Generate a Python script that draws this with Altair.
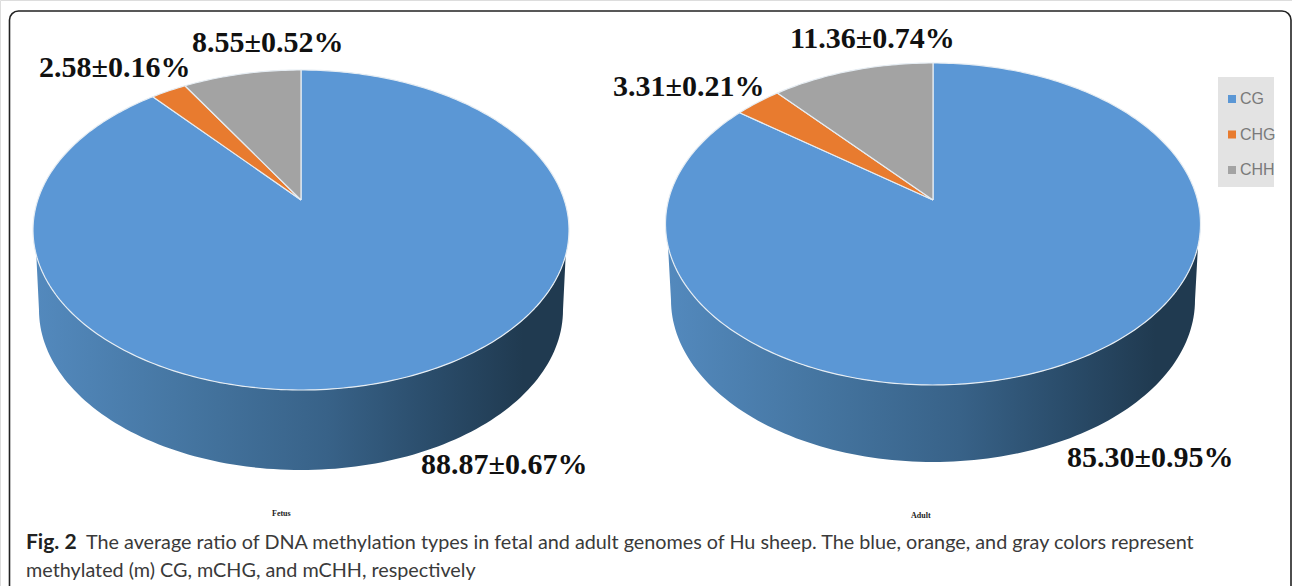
import math
import altair as alt
import pandas as pd

CHART_W, CHART_H = 1292, 586

# Methylation shares (%) and their errors, one list per genome
types = ["CG", "CHG", "CHH"]
fetus_values = [88.87, 2.58, 8.55]
fetus_errors = [0.67, 0.16, 0.52]
adult_values = [85.30, 3.31, 11.36]
adult_errors = [0.95, 0.21, 0.74]
type_colors = ["#5b97d5", "#e87b2f", "#a3a3a3"]

# Perspective of each disc: apex, far and near rim, half width, rim shift and lower edge
discs = {
    "Fetus": dict(cx=301, apex=200, far=70, near=390, rx=268, rim_y=255, low_cy=310, low_rx=262, low_ry=160),
    "Adult": dict(cx=933, apex=200, far=63, near=385, rx=267.5, rim_y=246, low_cy=300, low_rx=262, low_ry=162),
}


def rim_point(d, turn):
    """Project a position on the round pie edge (fraction of a turn, clockwise from the top)."""
    up, down = d["apex"] - d["far"], d["near"] - d["apex"]
    k = (down - up) / (down + up)
    a = up * (1 + k)
    b = d["rx"] * math.sqrt(1 - k * k)
    u, v = math.sin(2 * math.pi * turn), math.cos(2 * math.pi * turn)
    w = 1 + k * v
    return d["cx"] + b * u / w, d["apex"] - a * v / w


def wedge_rows(name, values):
    d = discs[name]
    total = sum(values)
    rows, start = [], 0.0
    for t, val in zip(types, values):
        share = val / total
        steps = max(4, int(share * 360))
        pts = [(d["cx"], d["apex"])]
        pts += [rim_point(d, start + share * i / steps) for i in range(steps + 1)]
        pts += [(d["cx"], d["apex"])]
        rows += [dict(pie=name, type=t, i=i, x=x, y=y) for i, (x, y) in enumerate(pts)]
        start += share
    return rows


def side_rows(name):
    d = discs[name]
    cy = (d["far"] + d["near"]) / 2
    ry = (d["near"] - d["far"]) / 2
    t0 = math.asin((d["rim_y"] - cy) / ry)
    pts = []
    n = 120
    for i in range(n + 1):
        t = math.pi - t0 + (t0 - (math.pi - t0)) * i / n
        pts.append((d["cx"] + d["rx"] * math.cos(t), cy + ry * math.sin(t)))
    for i in range(n + 1):
        t = math.pi * i / n
        pts.append((d["cx"] + d["low_rx"] * math.cos(t), d["low_cy"] + d["low_ry"] * math.sin(t)))
    pts.append(pts[0])
    return [dict(pie=name, i=i, x=x, y=y) for i, (x, y) in enumerate(pts)]


wedges = pd.DataFrame(wedge_rows("Fetus", fetus_values) + wedge_rows("Adult", adult_values))
sides = pd.DataFrame(side_rows("Fetus") + side_rows("Adult"))

x_enc = alt.X("x:Q", scale=alt.Scale(domain=[0, CHART_W], nice=False, zero=False), axis=None)
y_enc = alt.Y("y:Q", scale=alt.Scale(domain=[CHART_H, 0], nice=False, zero=False), axis=None)

side_fill = alt.Gradient(
    gradient="linear", x1=0, x2=1, y1=0, y2=0,
    stops=[
        alt.GradientStop(color="#5389bd", offset=0),
        alt.GradientStop(color="#44749f", offset=0.3),
        alt.GradientStop(color="#386288", offset=0.55),
        alt.GradientStop(color="#2a4c6a", offset=0.75),
        alt.GradientStop(color="#203a50", offset=0.92),
        alt.GradientStop(color="#203a50", offset=1),
    ],
)

side_layer = alt.Chart(sides).mark_line(fill=side_fill, strokeWidth=0, clip=True).encode(
    x=x_enc, y=y_enc, order="i:Q", detail="pie:N"
)

wedge_layer = alt.Chart(wedges).mark_line(stroke="#e6edf3", strokeWidth=1.2, strokeJoin="round").encode(
    x=x_enc, y=y_enc, order="i:Q", detail="pie:N",
    fill=alt.Fill(
        "type:N",
        scale=alt.Scale(domain=types, range=type_colors),
        legend=alt.Legend(
            title=None, orient="none", legendX=1221, legendY=89,
            padding=0, symbolType="square", symbolSize=64,
            symbolStrokeWidth=0, labelColor="#7a7a7a", labelFontSize=16,
            labelFont="Liberation Sans", labelOffset=0, rowPadding=15.5,
            symbolOffset=3, zindex=1, clipHeight=20,
        ),
    ),
)

# Grey panel behind the legend entries
legend_box = alt.Chart(pd.DataFrame({"k": [0]})).mark_rect(color="#e3e3e3").encode(
    x=alt.value(1218), x2=alt.value(1274), y=alt.value(77), y2=alt.value(187)
)


def text_layer(text, x, y, **style):
    return alt.Chart(pd.DataFrame({"t": [text]})).mark_text(align="left", baseline="alphabetic", **style).encode(
        x=alt.value(x), y=alt.value(y), text="t:N"
    )


def label(value, error):
    return f"{value:.2f}±{error:.2f}%"


big = dict(font="Liberation Serif", fontWeight="bold", fontSize=30, color="#111111")
small = dict(font="Liberation Serif", fontWeight="bold", fontSize=8, color="#222222")
caption = dict(font="Lato", fontSize=19.8, color="#3a3a3a")

labels = [
    text_layer(label(fetus_values[0], fetus_errors[0]), 421, 474, **big),
    text_layer(label(fetus_values[1], fetus_errors[1]), 39, 77, **big),
    text_layer(label(fetus_values[2], fetus_errors[2]), 192, 52, **big),
    text_layer(label(adult_values[0], adult_errors[0]), 1067, 467, **big),
    text_layer(label(adult_values[1], adult_errors[1]), 613, 96, **big),
    text_layer(label(adult_values[2], adult_errors[2]), 790, 48, **big),
    text_layer("Fetus", 272, 516, **small),
    text_layer("Adult", 911, 518, **small),
    text_layer("Fig. 2", 26, 549, font="Lato", fontSize=21, fontWeight="bold", color="#222222"),
    text_layer(
        "The average ratio of DNA methylation types in fetal and adult genomes of Hu sheep. "
        "The blue, orange, and gray colors represent", 86, 549, **caption),
    text_layer("methylated (m) CG, mCHG, and mCHH, respectively", 26, 577, **caption),
]

# Rounded panel outline; its lower edge runs past the bottom of the view
frame = alt.Chart(pd.DataFrame({"k": [0]})).mark_rect(
    fillOpacity=0, stroke="#222222", strokeWidth=1.6, cornerRadius=9, clip=True
).encode(x=alt.value(9.5), x2=alt.value(1291), y=alt.value(11), y2=alt.value(620))

chart = alt.layer(legend_box, side_layer, wedge_layer, frame, *labels).properties(
    width=CHART_W, height=CHART_H, padding=0,
    autosize=alt.AutoSizeParams(type="none"),
).configure_view(stroke=None).configure(background="white")

chart.save("out.html", embed_options={"renderer": "svg", "actions": False})
